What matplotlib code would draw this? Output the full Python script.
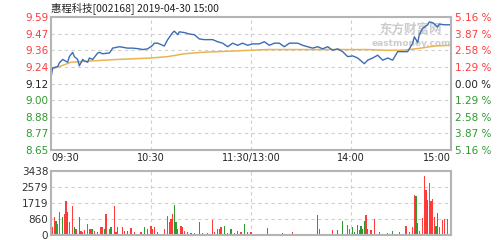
import matplotlib
matplotlib.use("Agg")
import matplotlib.pyplot as plt

plt.rcParams['font.family'] = ['DejaVu Sans', 'Noto Sans CJK SC']

title = "惠程科技[002168] 2019-04-30 15:00"
pre_close = 9.12

price_ticks = [9.59, 9.47, 9.36, 9.24, 9.12, 9.00, 8.88, 8.77, 8.65]
pct_labels = ["5.16 %", "3.87 %", "2.58 %", "1.29 %", "0.00 %",
              "1.29 %", "2.58 %", "3.87 %", "5.16 %"]
vol_ticks = [0, 860, 1719, 2579, 3438]
time_ticks = [0, 60, 120, 180, 240]
time_labels = ["09:30", "10:30", "11:30/13:00", "14:00", "15:00"]

# minutes from 09:30 (lunch break removed) and price
price_min = [0, 1, 4, 5, 7, 10, 11, 13, 14, 16,
             17, 19, 20, 22, 23, 25, 28, 29, 31, 34,
             35, 37, 41, 46, 49, 53, 55, 58, 61, 62,
             64, 67, 68, 70, 73, 74, 76, 77, 80, 83,
             86, 89, 92, 97, 100, 103, 106, 109, 112, 115,
             118, 121, 125, 128, 131, 134, 137, 140, 143, 148,
             151, 154, 157, 160, 163, 166, 169, 172, 175, 178,
             181, 184, 187, 188, 190, 193, 196, 199, 202, 205,
             208, 211, 214, 217, 218, 220, 221, 223, 226, 227,
             229, 232, 233, 236, 240]
price_val = [9.16, 9.23, 9.24, 9.265, 9.29, 9.27, 9.31, 9.34, 9.31, 9.29,
             9.245, 9.29, 9.28, 9.27, 9.30, 9.29, 9.335, 9.34, 9.33, 9.335,
             9.335, 9.37, 9.38, 9.37, 9.37, 9.365, 9.36, 9.365, 9.39, 9.405,
             9.405, 9.39, 9.385, 9.43, 9.48, 9.49, 9.465, 9.485, 9.48, 9.47,
             9.465, 9.435, 9.43, 9.43, 9.415, 9.405, 9.38, 9.405, 9.39, 9.405,
             9.39, 9.40, 9.40, 9.415, 9.39, 9.405, 9.405, 9.38, 9.405, 9.405,
             9.39, 9.38, 9.37, 9.38, 9.365, 9.38, 9.355, 9.365, 9.345, 9.31,
             9.315, 9.30, 9.27, 9.26, 9.285, 9.30, 9.32, 9.285, 9.30, 9.285,
             9.345, 9.345, 9.345, 9.405, 9.45, 9.41, 9.465, 9.51, 9.535, 9.555,
             9.55, 9.52, 9.54, 9.535, 9.535]

avg_min = [0, 5, 12, 25, 40, 60, 70, 80, 90, 110, 130, 150, 170, 190, 200,
           210, 215, 222, 230, 240]
avg_val = [9.22, 9.24, 9.27, 9.28, 9.29, 9.30, 9.31, 9.33, 9.34, 9.35, 9.36,
           9.36, 9.36, 9.36, 9.355, 9.355, 9.36, 9.37, 9.385, 9.39]

vol_min = [1, 2, 3, 4, 5, 7, 8, 9, 10, 11,
           13, 14, 15, 17, 18, 19, 20, 22, 23, 24,
           25, 26, 28, 30, 31, 32, 33, 35, 36, 38,
           39, 40, 43, 44, 46, 48, 50, 52, 54, 56,
           58, 60, 61, 62, 64, 66, 68, 70, 71, 72,
           73, 74, 75, 76, 78, 79, 80, 82, 84, 86,
           89, 91, 94, 97, 98, 100, 101, 102, 104, 106,
           108, 110, 112, 114, 116, 118, 120, 123, 126, 130,
           133, 136, 139, 142, 145, 148, 152, 155, 158, 160,
           161, 164, 167, 169, 172, 175, 178, 179, 181, 182,
           184, 185, 186, 187, 188, 189, 190, 192, 194, 197,
           200, 202, 205, 207, 209, 211, 213, 215, 217, 218,
           219, 220, 221, 223, 224, 225, 226, 227, 228, 229,
           230, 231, 232, 233, 235, 236, 238, 240]
vol_val = [450, 950, 750, 590, 1250, 950, 1130, 1810, 1250, 700,
           1580, 410, 330, 950, 230, 180, 280, 590, 330, 330,
           330, 230, 150, 410, 410, 330, 1130, 330, 410, 1580,
           180, 410, 410, 230, 230, 360, 150, 60, 180, 410,
           330, 500, 330, 410, 150, 60, 330, 1040, 680, 860,
           1130, 1610, 680, 330, 500, 410, 230, 150, 100, 90,
           720, 100, 90, 820, 150, 330, 330, 410, 500, 100,
           330, 100, 230, 180, 590, 150, 150, 80, 60, 360,
           60, 50, 100, 60, 180, 60, 50, 60, 70, 1090,
           310, 60, 80, 250, 250, 750, 520, 330, 420, 150,
           560, 275, 460, 330, 730, 1050, 330, 280, 870, 150,
           60, 100, 200, 60, 150, 80, 510, 180, 420, 2150,
           2100, 620, 240, 890, 3170, 2420, 1870, 2800, 1820, 1960,
           960, 500, 1180, 430, 830, 860, 840, 1180]
vol_up = [1, 1, 0, 1, 1, 0, 1, 1, 0, 1,
          1, 0, 1, 0, 1, 1, 1, 1, 1, 1,
          0, 1, 1, 1, 1, 0, 1, 1, 0, 1,
          1, 0, 1, 1, 0, 1, 1, 1, 1, 0,
          0, 1, 1, 1, 1, 1, 1, 1, 1, 1,
          1, 0, 0, 0, 1, 1, 1, 1, 1, 1,
          0, 1, 1, 1, 1, 0, 0, 1, 0, 1,
          0, 1, 1, 1, 0, 1, 1, 1, 0, 0,
          1, 0, 0, 1, 1, 0, 1, 0, 1, 0,
          1, 0, 1, 1, 0, 0, 1, 1, 0, 0,
          0, 1, 0, 0, 0, 1, 0, 1, 1, 1,
          1, 1, 0, 1, 1, 0, 1, 1, 1, 1,
          0, 0, 1, 1, 1, 1, 0, 1, 1, 1,
          1, 0, 0, 1, 1, 1, 1, 1]

RED = "#ff3b3b"
GREEN = "#2f9a2f"
GRID = "#cfcfcf"
FRAME = "#b4b4b4"
FS = 7

fig = plt.figure(figsize=(5.02, 2.40), dpi=100)
fig.patch.set_facecolor('white')

ax = fig.add_axes([51/502, 1-150/240, 400/502, 133/240])
axv = fig.add_axes([51/502, 1-235/240, 400/502, 64/240])

for a in (ax, axv):
    for s in a.spines.values():
        s.set_color(FRAME)
        s.set_linewidth(1.5)
    a.set_xlim(0, 240)
    a.tick_params(length=0, labelsize=FS, pad=2)
    for t in (60, 120, 180):
        a.axvline(t, color=GRID, lw=0.8, ls=(0, (3, 3)), zorder=0)


def label_color(p):
    if p > pre_close + 0.001:
        return RED
    if p < pre_close - 0.001:
        return GREEN
    return "#222222"


# price panel
ax.set_ylim(8.65, 9.59)
for p in price_ticks[1:-1]:
    ax.axhline(p, color=GRID, lw=0.8, ls=(0, (3, 3)), zorder=0)
ax.plot(avg_min, avg_val, color="#e9b451", lw=1.1)
ax.plot(price_min, price_val, color="#3a6db5", lw=1.0)

ax.set_yticks(price_ticks)
ax.set_yticklabels(["%.2f" % p for p in price_ticks])
for lab, p in zip(ax.get_yticklabels(), price_ticks):
    lab.set_color(label_color(p))
    lab.set_fontsize(FS + 0.5)

ax.set_xticks(time_ticks)
ax.set_xticklabels(time_labels)
xl = ax.get_xticklabels()
xl[0].set_horizontalalignment('left')
xl[-1].set_horizontalalignment('right')
for lab in xl:
    lab.set_color("#222222")

ax2 = ax.twinx()
ax2.set_ylim(8.65, 9.59)
ax2.set_yticks(price_ticks)
ax2.set_yticklabels(pct_labels)
ax2.tick_params(length=0, labelsize=FS + 0.5, pad=3)
for lab, p in zip(ax2.get_yticklabels(), price_ticks):
    lab.set_color(label_color(p))
for s in ax2.spines.values():
    s.set_visible(False)

# watermark
ax.text(0.90, 0.91, "东方财富网", transform=ax.transAxes, ha='center', va='center',
        fontsize=9, color="#cccccc", family=['Noto Sans CJK SC'], fontweight='bold', zorder=1)
ax.text(0.90, 0.80, "eastmoney.com", transform=ax.transAxes, ha='center', va='center',
        fontsize=6.5, color="#cccccc", fontweight='bold', zorder=1)

# volume panel
axv.set_ylim(0, 3438)
for v in vol_ticks[1:-1]:
    axv.axhline(v, color=GRID, lw=0.8, ls=(0, (3, 3)), zorder=0)
colors = [RED if u else GREEN for u in vol_up]
axv.bar(vol_min, vol_val, width=0.9, color=colors, linewidth=0, zorder=2)
axv.set_yticks(vol_ticks)
axv.set_yticklabels([str(v) for v in vol_ticks], color="#333333", fontsize=FS + 0.5)
axv.set_xticks([])

fig.text(51/502, 1-8/240, title, ha='left', va='center', fontsize=FS + 0.5,
         color="#222222", family=['Noto Sans CJK SC', 'DejaVu Sans'])

fig.savefig("out.png", dpi=100)
